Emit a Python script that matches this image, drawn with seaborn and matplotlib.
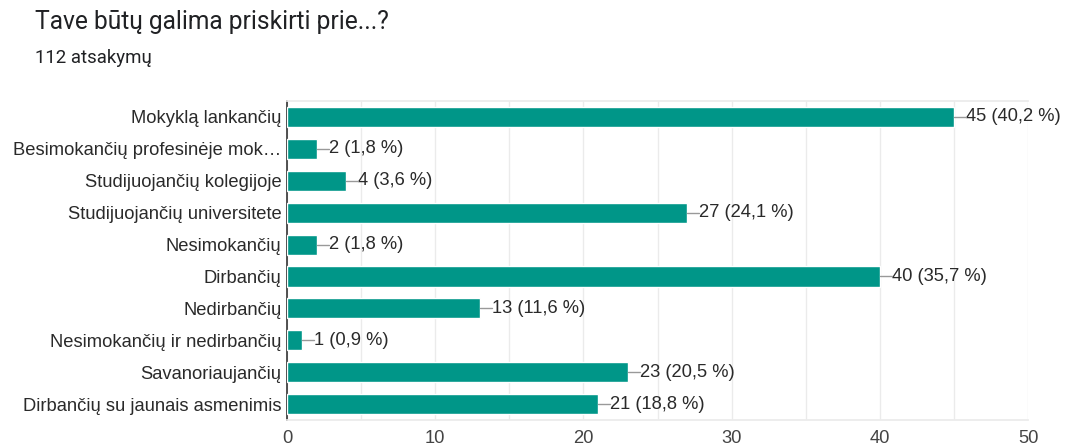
import matplotlib
matplotlib.use("Agg")
import matplotlib.pyplot as plt
import seaborn as sns
import pandas as pd

categories = [
    "Mokyklą lankančių",
    "Besimokančių profesinėje mok…",
    "Studijuojančių kolegijoje",
    "Studijuojančių universitete",
    "Nesimokančių",
    "Dirbančių",
    "Nedirbančių",
    "Nesimokančių ir nedirbančių",
    "Savanoriaujančių",
    "Dirbančių su jaunais asmenimis",
]
counts = [45, 2, 4, 27, 2, 40, 13, 1, 23, 21]
percents = ["40,2", "1,8", "3,6", "24,1", "1,8", "35,7", "11,6", "0,9", "20,5", "18,8"]
x_ticks = [0, 10, 20, 30, 40, 50]
title = "Tave būtų galima priskirti prie...?"
subtitle = "112 atsakymų"

sns.set_theme(style="white")
plt.rcParams["font.family"] = ["Liberation Sans", "DejaVu Sans"]

df = pd.DataFrame({"cat": categories, "n": counts})

fig = plt.figure(figsize=(10.71, 4.48), dpi=100)
ax = fig.add_axes([0.268, 0.0625, 0.692, 0.712])

sns.barplot(data=df, x="n", y="cat", orient="h", color="#009688",
            saturation=1, width=0.63, ax=ax, zorder=3)

ax.set_xlim(0, 50)
ax.set_ylim(9.5, -0.5)
ax.set_xticks(x_ticks)
ax.set_xticks(range(5, 50, 10), minor=True)
ax.grid(axis="x", which="both", color="#ebebeb", linewidth=1, zorder=0)
ax.set_xlabel("")
ax.set_ylabel("")

for s in ["top", "bottom"]:
    ax.spines[s].set_visible(True)
    ax.spines[s].set_color("#ebebeb")
ax.spines["right"].set_visible(False)
ax.spines["left"].set_color("#333333")
ax.spines["left"].set_linewidth(1.2)

fs = 13.2
ax.tick_params(axis="y", length=0, pad=4, labelsize=fs, labelcolor="#2a2a2a")
ax.tick_params(axis="x", which="both", length=0, pad=7.5, labelsize=fs, labelcolor="#444444")

# value labels with short leader lines
for i, (n, p) in enumerate(zip(counts, percents)):
    ax.plot([n, n + 0.8], [i, i], color="#999999", linewidth=1, zorder=4,
            clip_on=False)
    ax.text(n + 0.82, i, f"{n} ({p} %)", va="center", ha="left",
            fontsize=fs, color="#2a2a2a")

fig.text(35 / 1071, 1 - 22 / 448, title, fontsize=17.7, color="#202124",
         va="center", ha="left", family=["Roboto", "DejaVu Sans"])
fig.text(35 / 1071, 1 - 58 / 448, subtitle, fontsize=13.4, color="#202124",
         va="center", ha="left", family=["Roboto", "DejaVu Sans"])

fig.savefig("out.png", dpi=100, facecolor="white")
